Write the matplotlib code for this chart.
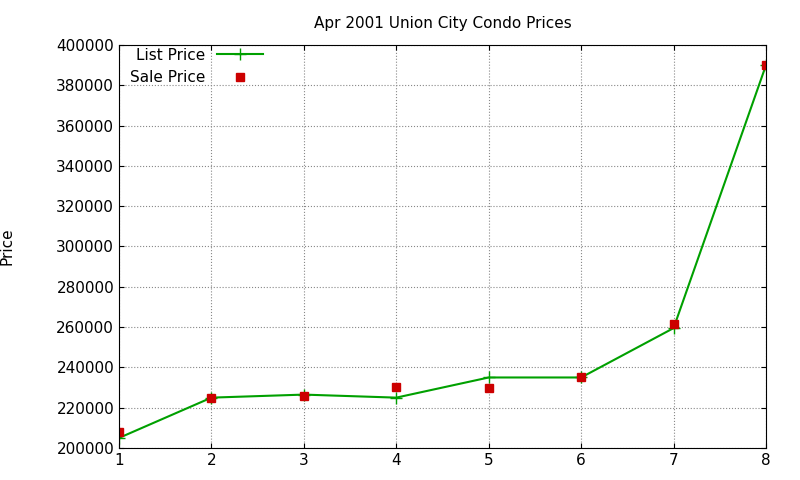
import matplotlib.pyplot as plt

# data
indices = [1, 2, 3, 4, 5, 6, 7, 8]
list_price = [205000, 225000, 226500, 225000, 235000, 235000, 259500, 390000]
sale_price = [208000, 225000, 226000, 230500, 230000, 235000, 261500, 390000]

fig = plt.figure(figsize=(8, 4.8), dpi=100)
ax = fig.add_axes([119/800, 1 - 448/480, (766-119)/800, (448-45)/480])

ax.plot(indices, list_price, color='#00a000', marker='+', markersize=8, linewidth=1.5, label='List Price')
ax.plot(indices, sale_price, linestyle='none', marker='s', color='#cc0000', markersize=6, label='Sale Price')

ax.set_xlim(1, 8)
ax.set_ylim(200000, 400000)
ax.set_yticks(range(200000, 400001, 20000))
ax.grid(True, linestyle=':', color='#888888', linewidth=0.8)
ax.tick_params(direction='in', labelsize=11, top=True, right=True)
ax.set_title('Apr 2001 Union City Condo Prices', fontsize=11, pad=12)
ax.set_ylabel('Price', fontsize=11, labelpad=30)

leg = ax.legend(loc='upper left', frameon=False, markerfirst=False, fontsize=11,
                bbox_to_anchor=(0.0, 1.02), handlelength=3, borderaxespad=0.3)

fig.savefig('out.png', dpi=100)
